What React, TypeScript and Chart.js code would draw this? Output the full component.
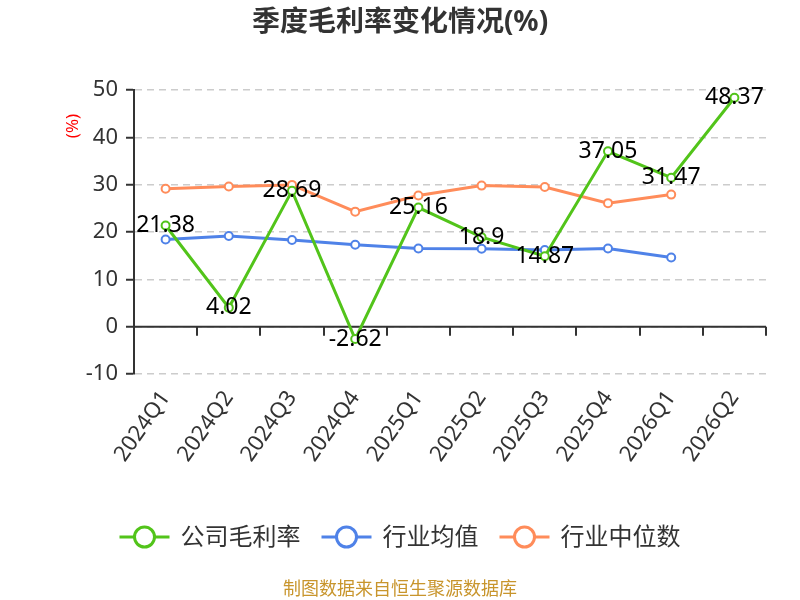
import { useEffect, useRef } from 'react'
import { Chart, registerables } from 'chart.js'

Chart.register(...registerables)

// quarterly gross margin (%) — company vs industry
const quarters = ['2024Q1', '2024Q2', '2024Q3', '2024Q4', '2025Q1', '2025Q2', '2025Q3', '2025Q4', '2026Q1', '2026Q2']
const companyMargin = [21.38, 4.02, 28.69, -2.62, 25.16, 18.9, 14.87, 37.05, 31.47, 48.37]
const industryAvg = [18.4, 19.15, 18.3, 17.3, 16.5, 16.45, 16.2, 16.5, 14.6, null]
const industryMedian = [29.15, 29.6, 29.95, 24.3, 27.7, 29.8, 29.5, 26.1, 27.9, null]
const seriesNames = ['公司毛利率', '行业均值', '行业中位数']
const seriesColors = ['#52c41a', '#4f82e8', '#ff8c5a']
const yMin = -10
const yMax = 50
const yStep = 10
const chartTitle = '季度毛利率变化情况(%)'
const unitLabel = '(%)'
const sourceNote = '制图数据来自恒生聚源数据库'

const FONT = '"Noto Sans", "Noto Sans CJK SC", sans-serif'

const decorations = {
  id: 'decorations',
  beforeDatasetsDraw(chart: any) {
    const { ctx, chartArea, scales } = chart
    const x = scales.x
    const y = scales.y
    const y0 = y.getPixelForValue(0)
    const half = (x.getPixelForValue(1) - x.getPixelForValue(0)) / 2
    ctx.save()
    ctx.strokeStyle = '#333'
    ctx.lineWidth = 2
    ctx.beginPath()
    ctx.moveTo(chartArea.left, y0)
    ctx.lineTo(chartArea.right, y0)
    for (let i = 0; i < quarters.length; i++) {
      const bx = Math.round(x.getPixelForValue(i) + half)
      ctx.moveTo(bx, y0)
      ctx.lineTo(bx, y0 + 9)
    }
    ctx.stroke()
    ctx.restore()
  },
  afterDatasetsDraw(chart: any) {
    const { ctx } = chart
    const meta = chart.getDatasetMeta(0)
    ctx.save()
    ctx.font = `23px ${FONT}`
    ctx.fillStyle = '#000'
    ctx.textAlign = 'center'
    ctx.textBaseline = 'middle'
    meta.data.forEach((pt: any, i: number) => {
      ctx.fillText(String(companyMargin[i]), pt.x, pt.y)
    })
    ctx.restore()
  },
  afterDraw(chart: any) {
    const { ctx, chartArea } = chart
    ctx.save()
    // title
    ctx.font = `bold 28px ${FONT}`
    ctx.fillStyle = '#333'
    ctx.textAlign = 'center'
    ctx.textBaseline = 'middle'
    ctx.fillText(chartTitle, chart.width / 2, 23)

    // unit
    ctx.save()
    ctx.translate(73, chartArea.top + 36)
    ctx.rotate(-Math.PI / 2)
    ctx.font = `17px ${FONT}`
    ctx.fillStyle = '#ff0000'
    ctx.fillText(unitLabel, 0, 0)
    ctx.restore()

    // legend
    ctx.font = `24px ${FONT}`
    const markerW = 50
    const gap = 11
    const itemGap = 21
    const widths = seriesNames.map((n) => markerW + gap + ctx.measureText(n).width)
    const total = widths.reduce((a, b) => a + b, 0) + itemGap * (widths.length - 1)
    let sx = (chart.width - total) / 2
    const ly = 537
    seriesNames.forEach((name, i) => {
      ctx.strokeStyle = seriesColors[i]
      ctx.lineWidth = 3
      ctx.beginPath()
      ctx.moveTo(sx, ly)
      ctx.lineTo(sx + markerW, ly)
      ctx.stroke()
      ctx.beginPath()
      ctx.arc(sx + markerW / 2, ly, 10, 0, Math.PI * 2)
      ctx.fillStyle = '#fff'
      ctx.fill()
      ctx.stroke()
      ctx.fillStyle = '#333'
      ctx.textAlign = 'left'
      ctx.fillText(name, sx + markerW + gap, ly + 1)
      sx += widths[i] + itemGap
    })

    // source
    ctx.font = `18px ${FONT}`
    ctx.fillStyle = '#c8952c'
    ctx.textAlign = 'center'
    ctx.fillText(sourceNote, chart.width / 2, 590)
    ctx.restore()
  },
}

export default function App() {
  const canvasRef = useRef<HTMLCanvasElement>(null)
  const chartRef = useRef<Chart | null>(null)

  useEffect(() => {
    document.body.style.margin = '0'
    if (!canvasRef.current) return
    if (chartRef.current) chartRef.current.destroy()

    const lineSet = (label: string, data: (number | null)[], color: string) => ({
      label,
      data,
      borderColor: color,
      backgroundColor: '#fff',
      borderWidth: 3,
      pointRadius: 4,
      pointBorderWidth: 2,
      pointBackgroundColor: '#fff',
      pointBorderColor: color,
      tension: 0,
      spanGaps: false,
    })

    chartRef.current = new Chart(canvasRef.current, {
      type: 'line',
      data: {
        labels: quarters,
        datasets: [
          lineSet(seriesNames[0], companyMargin, seriesColors[0]),
          lineSet(seriesNames[1], industryAvg, seriesColors[1]),
          lineSet(seriesNames[2], industryMedian, seriesColors[2]),
        ],
      },
      options: {
        responsive: false,
        animation: false,
        layout: { padding: { top: 90, right: 34, left: 0, bottom: 0 } },
        plugins: {
          legend: { display: false },
          title: { display: false },
          tooltip: { enabled: false },
        },
        scales: {
          x: {
            offset: true,
            afterFit(scale: any) {
              scale.height = 226
            },
            grid: { display: false, drawTicks: false },
            border: { display: false },
            ticks: {
              autoSkip: false,
              minRotation: 55,
              maxRotation: 55,
              padding: 12,
              color: '#333',
              font: { size: 22, family: FONT },
            },
          },
          y: {
            min: yMin,
            max: yMax,
            afterFit(scale: any) {
              scale.width = 134
            },
            ticks: {
              stepSize: yStep,
              padding: 8,
              color: '#333',
              font: { size: 22, family: FONT },
            },
            grid: {
              color: '#ccc',
              lineWidth: 1.5,
              tickColor: '#333',
              tickWidth: 2,
              tickLength: 8,
            },
            border: { display: true, color: '#333', width: 2, dash: [7, 5] },
          },
        },
      },
      plugins: [decorations],
    } as any)

    return () => {
      if (chartRef.current) {
        chartRef.current.destroy()
        chartRef.current = null
      }
    }
  }, [])

  return (
    <div style={{ width: 800, height: 600 }}>
      <canvas ref={canvasRef} width={800} height={600} />
    </div>
  )
}
